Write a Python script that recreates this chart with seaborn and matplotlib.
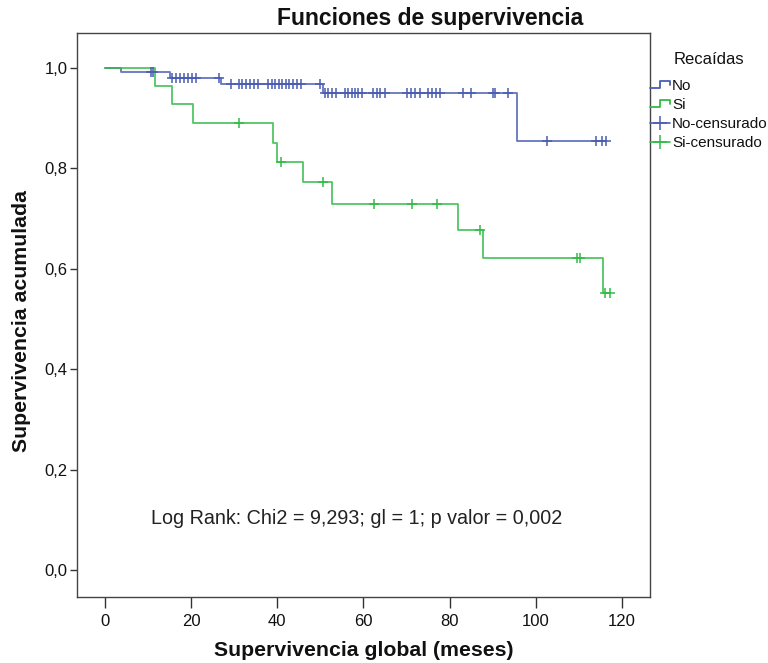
import numpy as np
import pandas as pd
import matplotlib
matplotlib.use("Agg")
import matplotlib.pyplot as plt
from matplotlib.lines import Line2D
from matplotlib.legend_handler import HandlerBase
import seaborn as sns

# Kaplan-Meier estimates by relapse group ("Recaídas")
no_event_times = [3.6, 15.0, 27.0, 50.5, 95.7]
no_surv = [0.992, 0.981, 0.968, 0.950, 0.855]
no_censored = [10.6, 11.2, 15.5, 16.5, 17.4, 18.3, 19.3, 20.2, 21.1, 26.5,
               29.2, 31.1, 31.9, 32.8, 33.6, 34.5, 35.4, 37.9, 38.7, 39.5,
               40.3, 41.1, 41.9, 42.7, 43.6, 44.6, 45.4, 49.8, 51.1, 51.8,
               52.8, 53.6, 55.7, 56.5, 57.3, 58.0, 58.8, 59.6, 62.3, 63.1,
               63.8, 65.0, 70.2, 71.0, 72.0, 73.0, 75.0, 75.8, 76.8, 77.8,
               83.1, 85.0, 90.0, 90.6, 93.6, 102.5, 114.0, 115.4, 116.3]

si_event_times = [11.6, 15.6, 20.5, 38.9, 40.0, 45.9, 52.8, 82.0, 87.8, 115.6]
si_surv = [0.965, 0.928, 0.890, 0.851, 0.812, 0.773, 0.730, 0.677, 0.621, 0.551]
si_censored = [31.2, 40.8, 50.7, 62.4, 71.2, 77.1, 87.0, 109.5, 110.3, 116.0, 117.2]

group_labels = ["No", "Si", "No-censurado", "Si-censurado"]
x_ticks = [0, 20, 40, 60, 80, 100, 120]
y_ticks = [0.0, 0.2, 0.4, 0.6, 0.8, 1.0]
y_tick_labels = ["0,0", "0,2", "0,4", "0,6", "0,8", "1,0"]
annotation = "Log Rank: Chi2 = 9,293; gl = 1; p valor = 0,002"

BLUE = "#4a5db3"
GREEN = "#33bb48"
INK = "#111111"

sns.set_style("white")
plt.rcParams["font.family"] = ["Liberation Sans", "DejaVu Sans"]
plt.rcParams["text.color"] = INK
plt.rcParams["axes.labelcolor"] = INK
plt.rcParams["xtick.color"] = INK
plt.rcParams["ytick.color"] = INK


def step_frame(ev_t, ev_s, censored):
    end = max(max(ev_t), max(censored))
    return pd.DataFrame({"t": [0.0] + list(ev_t) + [end],
                         "S": [1.0] + list(ev_s) + [ev_s[-1]]})


def level_at(times, ev_t, ev_s):
    idx = np.searchsorted(np.asarray(ev_t), np.asarray(times), side="right")
    return np.r_[1.0, ev_s][idx]


fig = plt.figure(figsize=(7.68, 6.63), dpi=100)
ax = fig.add_axes([77 / 768, 66 / 663, 573 / 768, 564 / 663])

df_no = step_frame(no_event_times, no_surv, no_censored)
df_si = step_frame(si_event_times, si_surv, si_censored)

sns.lineplot(data=df_no, x="t", y="S", drawstyle="steps-post", color=BLUE,
             lw=1.3, estimator=None, sort=False, ax=ax, alpha=0.85)
sns.lineplot(data=df_si, x="t", y="S", drawstyle="steps-post", color=GREEN,
             lw=1.3, estimator=None, sort=False, ax=ax, alpha=0.85)

cens_no = pd.DataFrame({"t": no_censored,
                        "S": level_at(no_censored, no_event_times, no_surv)})
cens_si = pd.DataFrame({"t": si_censored,
                        "S": level_at(si_censored, si_event_times, si_surv)})
sns.scatterplot(data=cens_no, x="t", y="S", marker="+", s=60, color=BLUE,
                linewidth=1.1, ax=ax, zorder=3, legend=False)
sns.scatterplot(data=cens_si, x="t", y="S", marker="+", s=60, color=GREEN,
                linewidth=1.1, ax=ax, zorder=3, legend=False)

ax.set_xlim(-6.5, 126.5)
ax.set_ylim(-0.054, 1.07)
ax.set_xticks(x_ticks)
ax.set_xticklabels([str(v) for v in x_ticks])
ax.set_yticks(y_ticks)
ax.set_yticklabels(y_tick_labels)
ax.tick_params(axis="x", direction="out", length=8, width=1, color="#333333",
               labelsize=12, pad=4, bottom=True)
ax.tick_params(axis="y", direction="out", length=5, width=1, color="#333333",
               labelsize=12, pad=2, left=True)
for sp in ax.spines.values():
    sp.set_color("#444444")
    sp.set_linewidth(1.0)

ax.set_xlabel("Supervivencia global (meses)", fontweight="bold", fontsize=15.3)
ax.set_ylabel("Supervivencia acumulada", fontweight="bold", fontsize=15.3)
ax.xaxis.label.set_va("center")
ax.yaxis.label.set_va("center")
ax.xaxis.set_label_coords(0.5, -0.094)
ax.yaxis.set_label_coords(-0.096, 0.49)

fig.text(430 / 768, 1 - 18 / 663, "Funciones de supervivencia",
         fontweight="bold", fontsize=16.5, ha="center", va="center")

ax.text(58.3, 0.102, annotation, fontsize=14.2, ha="center", va="center",
        color="#222222")


class StepHandler(HandlerBase):
    def create_artists(self, legend, orig_handle, xdescent, ydescent,
                       width, height, fontsize, trans):
        xs = np.array([0.0, 0.5, 0.5, 1.0, 1.0]) * width - xdescent
        ys = np.array([0.2, 0.2, 0.85, 0.85, 0.55]) * height - ydescent
        line = Line2D(xs, ys, color=orig_handle.get_color(),
                      lw=orig_handle.get_linewidth())
        line.set_transform(trans)
        return [line]


h_no = Line2D([], [], color=BLUE, lw=1.3)
h_si = Line2D([], [], color=GREEN, lw=1.3)
h_no_c = Line2D([], [], color=BLUE, lw=1.2, marker="+", markersize=10,
                markeredgewidth=1.1)
h_si_c = Line2D([], [], color=GREEN, lw=1.2, marker="+", markersize=10,
                markeredgewidth=1.1)
leg = fig.legend([h_no, h_si, h_no_c, h_si_c], group_labels,
                 handler_map={h_no: StepHandler(), h_si: StepHandler()},
                 loc="upper left", bbox_to_anchor=(650 / 768, 1 - 52 / 663),
                 frameon=False, fontsize=11, title="Recaídas",
                 title_fontsize=12, handlelength=1.3, handletextpad=0.15,
                 labelspacing=0.32, borderaxespad=0.0, borderpad=0.0)
leg._legend_box.sep = 9

fig.savefig("out.png", dpi=100)
